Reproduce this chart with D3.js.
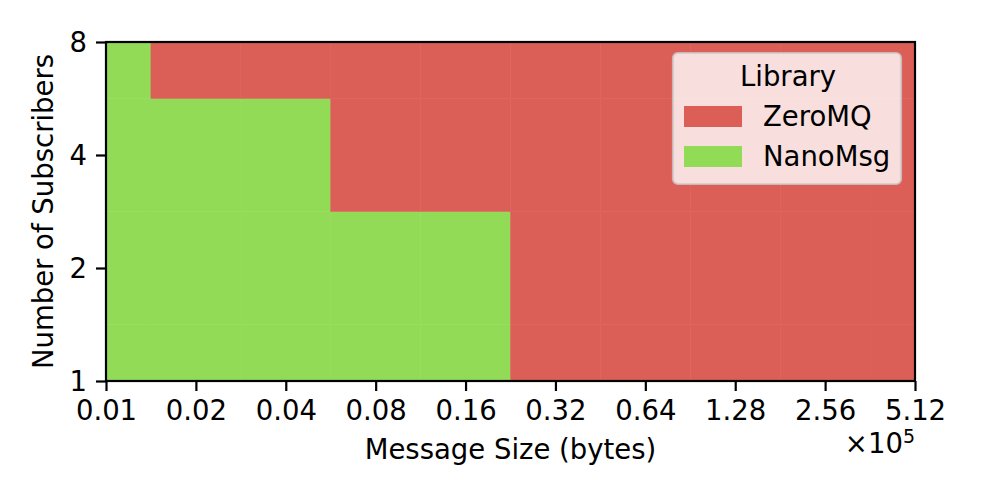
<!DOCTYPE html>
<html>
<head>
<meta charset="utf-8">
<script src="https://cdn.jsdelivr.net/npm/d3@7"></script>
<style>
  body { margin: 0; background: #fff; }
  text { font-family: "DejaVu Sans", sans-serif; }
</style>
</head>
<body>
<svg id="chart" width="996" height="498"></svg>
<script>
// Message sizes (x 10^5 bytes) and subscriber counts
const sizes = [0.01, 0.02, 0.04, 0.08, 0.16, 0.32, 0.64, 1.28, 2.56, 5.12];
const subscribers = [1, 2, 4, 8];

// faster library for each message size, one array per subscriber count
const winnerSub1 = ["NanoMsg", "NanoMsg", "NanoMsg", "NanoMsg", "NanoMsg", "ZeroMQ", "ZeroMQ", "ZeroMQ", "ZeroMQ", "ZeroMQ"];
const winnerSub2 = ["NanoMsg", "NanoMsg", "NanoMsg", "NanoMsg", "NanoMsg", "ZeroMQ", "ZeroMQ", "ZeroMQ", "ZeroMQ", "ZeroMQ"];
const winnerSub4 = ["NanoMsg", "NanoMsg", "NanoMsg", "ZeroMQ", "ZeroMQ", "ZeroMQ", "ZeroMQ", "ZeroMQ", "ZeroMQ", "ZeroMQ"];
const winnerSub8 = ["NanoMsg", "ZeroMQ", "ZeroMQ", "ZeroMQ", "ZeroMQ", "ZeroMQ", "ZeroMQ", "ZeroMQ", "ZeroMQ", "ZeroMQ"];
const winners = [winnerSub1, winnerSub2, winnerSub4, winnerSub8];

const libraries = ["ZeroMQ", "NanoMsg"];
const libColors = ["#db5f57", "#91db57"];

const svg = d3.select("#chart");
const margin = { left: 106, right: 81, top: 42, bottom: 117 };
const width = 996, height = 498;

const x = d3.scaleLog().base(2)
    .domain([sizes[0], sizes[sizes.length - 1]])
    .range([margin.left, width - margin.right]);
const y = d3.scaleLog().base(2)
    .domain([subscribers[0], subscribers[subscribers.length - 1]])
    .range([height - margin.bottom, margin.top]);
const color = d3.scaleOrdinal().domain(libraries).range(libColors);

// cell edges sit halfway (in log space) between neighbouring values
function edges(vals) {
    return vals.map((v, i) => [
        i === 0 ? v : Math.sqrt(vals[i - 1] * v),
        i === vals.length - 1 ? v : Math.sqrt(v * vals[i + 1])
    ]);
}
const xEdges = edges(sizes);
const yEdges = edges(subscribers);

const cells = [];
winners.forEach((row, j) => {
    row.forEach((lib, i) => {
        cells.push({ x0: xEdges[i][0], x1: xEdges[i][1], y0: yEdges[j][0], y1: yEdges[j][1], lib: lib });
    });
});

svg.append("g").selectAll("rect")
    .data(cells)
    .enter().append("rect")
    .attr("x", d => x(d.x0))
    .attr("y", d => y(d.y1))
    .attr("width", d => x(d.x1) - x(d.x0))
    .attr("height", d => y(d.y0) - y(d.y1))
    .attr("fill", d => color(d.lib))
    .attr("stroke", d => color(d.lib))
    .attr("stroke-width", 0.5);

// axes
const fontSize = 27.5;
const xAxis = svg.append("g")
    .attr("transform", `translate(0,${height - margin.bottom})`)
    .call(d3.axisBottom(x).tickValues(sizes).tickFormat(d => d.toFixed(2)).tickSize(10).tickPadding(9));
const yAxis = svg.append("g")
    .attr("transform", `translate(${margin.left},0)`)
    .call(d3.axisLeft(y).tickValues(subscribers).tickFormat(d3.format("d")).tickSize(10).tickPadding(9));

[xAxis, yAxis].forEach(g => {
    g.select(".domain").remove();
    g.selectAll(".tick line").attr("stroke", "#000").attr("stroke-width", 2.2);
    g.selectAll(".tick text").attr("fill", "#000").style("font-size", fontSize + "px")
        .style("font-family", "DejaVu Sans");
});
yAxis.selectAll(".tick text").attr("dy", "0.36em");
xAxis.selectAll(".tick text").attr("dy", "0.74em");

// frame
svg.append("rect")
    .attr("x", margin.left)
    .attr("y", margin.top)
    .attr("width", width - margin.left - margin.right)
    .attr("height", height - margin.top - margin.bottom)
    .attr("fill", "none")
    .attr("stroke", "#000")
    .attr("stroke-width", 2.2);

// axis labels
svg.append("text")
    .attr("x", (margin.left + width - margin.right) / 2)
    .attr("y", 459)
    .attr("text-anchor", "middle")
    .style("font-size", fontSize + "px")
    .text("Message Size (bytes)");

const offset = svg.append("text")
    .attr("x", width - margin.right)
    .attr("y", 453)
    .attr("text-anchor", "end")
    .style("font-size", fontSize + "px");
offset.append("tspan").text("\u00d710");
offset.append("tspan").attr("dy", -10).style("font-size", "19px").text("5");

svg.append("text")
    .attr("transform", `translate(53,${(margin.top + height - margin.bottom) / 2}) rotate(-90)`)
    .attr("text-anchor", "middle")
    .style("font-size", fontSize + "px")
    .text("Number of Subscribers");

// legend
const legend = svg.append("g").attr("transform", "translate(673,53)");
legend.append("rect")
    .attr("width", 228)
    .attr("height", 131)
    .attr("rx", 5)
    .attr("fill", "#fff")
    .attr("fill-opacity", 0.8)
    .attr("stroke", "#cccccc")
    .attr("stroke-opacity", 0.8)
    .attr("stroke-width", 2.2);
legend.append("text")
    .attr("x", 115)
    .attr("y", 33)
    .attr("text-anchor", "middle")
    .style("font-size", fontSize + "px")
    .text("Library");
const item = legend.selectAll(".item")
    .data(libraries)
    .enter().append("g")
    .attr("class", "item")
    .attr("transform", (d, i) => `translate(11,${53 + i * 40})`);
item.append("rect")
    .attr("width", 58)
    .attr("height", 21)
    .attr("fill", d => color(d));
item.append("text")
    .attr("x", 79)
    .attr("y", 20)
    .style("font-size", fontSize + "px")
    .text(d => d);
</script>
</body>
</html>
